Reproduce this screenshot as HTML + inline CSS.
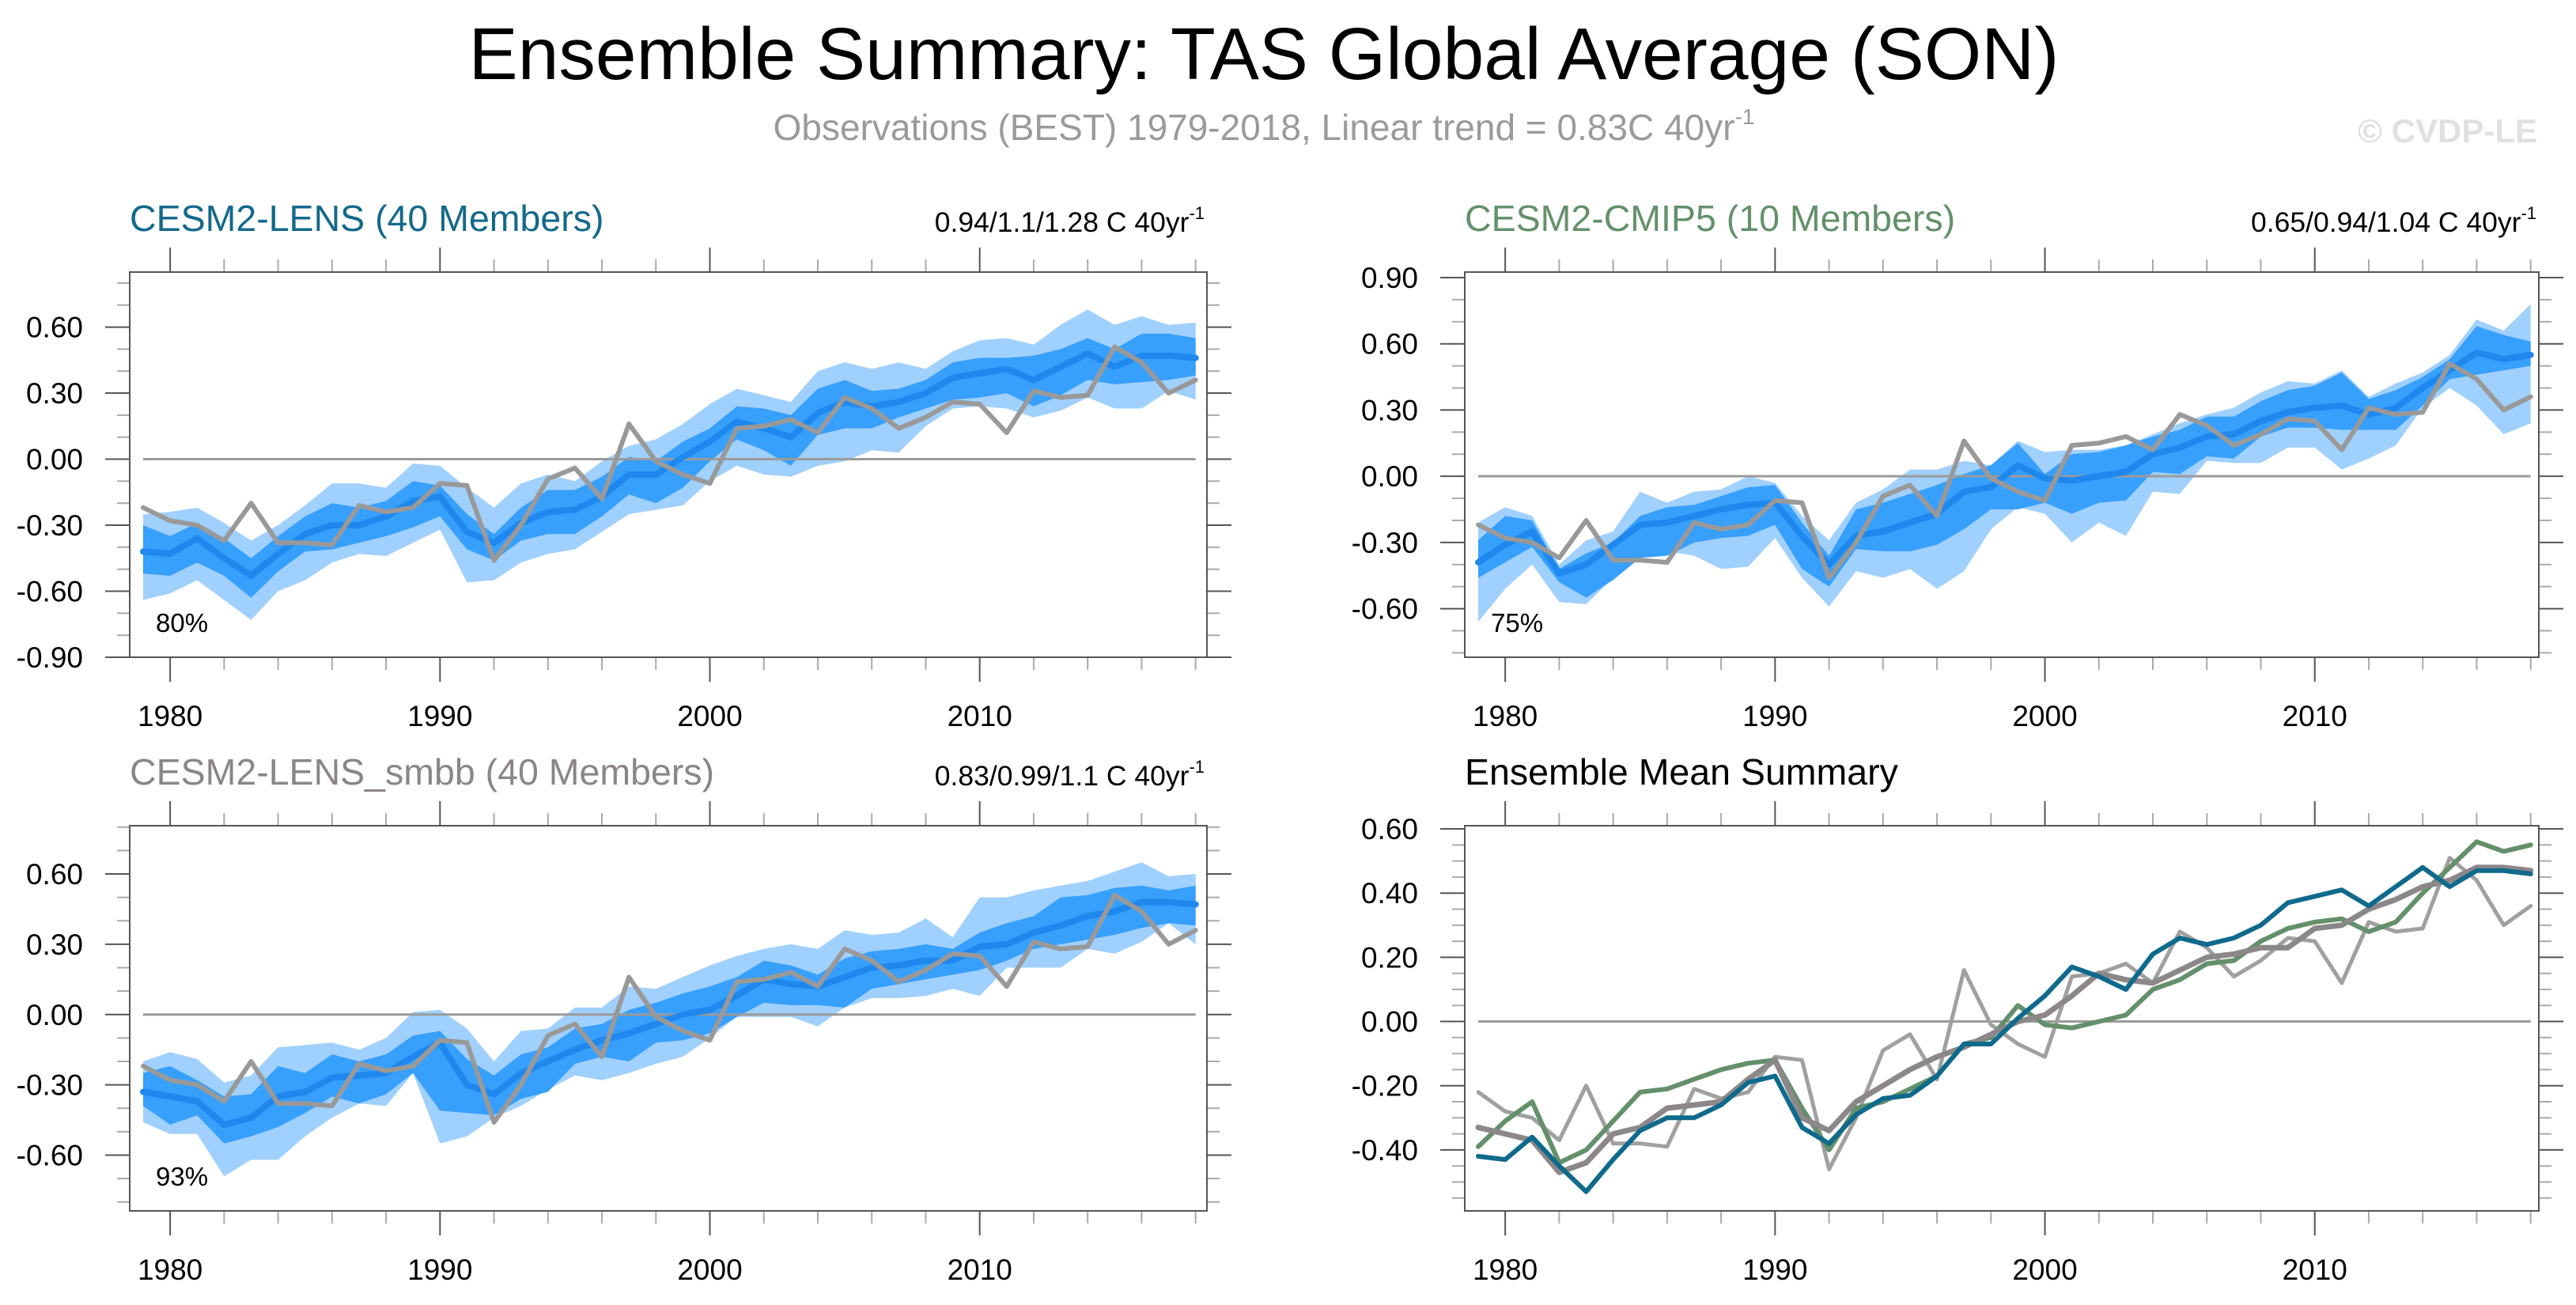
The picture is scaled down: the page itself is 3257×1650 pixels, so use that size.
<!DOCTYPE html>
<html><head><meta charset="utf-8"><style>
html,body{margin:0;padding:0;background:#fff;}
svg{display:block;font-family:"Liberation Sans",sans-serif;}
</style></head><body>
<svg id="chart" width="3257" height="1650" viewBox="0 0 3257 1650" xmlns="http://www.w3.org/2000/svg">
<text x="1598" y="100" font-size="93" text-anchor="middle" fill="#000">Ensemble Summary: TAS Global Average (SON)</text>
<text x="1598" y="177" font-size="46" text-anchor="middle" fill="#9a9a9a">Observations (BEST) 1979-2018, Linear trend = 0.83C 40yr<tspan font-size="28" dy="-20">-1</tspan></text>
<text x="3208" y="180" font-size="42" font-weight="bold" text-anchor="end" fill="#e0e0e0">© CVDP-LE</text>
<g id="panels"></g>
</svg>
<script>
const years = [];
for (let y = 1979; y <= 2018; y++) years.push(y);
const obs = [-0.22,-0.28,-0.30,-0.37,-0.20,-0.38,-0.38,-0.39,-0.21,-0.24,-0.22,-0.11,-0.12,-0.46,-0.30,-0.09,-0.04,-0.18,0.16,-0.01,-0.07,-0.11,0.14,0.15,0.18,0.12,0.28,0.23,0.14,0.19,0.26,0.25,0.12,0.31,0.28,0.29,0.51,0.44,0.30,0.36];
// CESM2-LENS
const lensMean = [-0.42,-0.43,-0.36,-0.45,-0.53,-0.43,-0.34,-0.30,-0.30,-0.26,-0.19,-0.17,-0.33,-0.38,-0.29,-0.24,-0.23,-0.17,-0.07,-0.07,0.01,0.08,0.17,0.14,0.10,0.21,0.26,0.24,0.26,0.30,0.37,0.39,0.41,0.36,0.42,0.48,0.42,0.47,0.47,0.46];
const lensHi90 = [-0.25,-0.24,-0.22,-0.29,-0.37,-0.30,-0.21,-0.11,-0.11,-0.13,-0.02,-0.03,-0.13,-0.22,-0.11,-0.07,-0.10,-0.01,0.06,0.09,0.16,0.25,0.32,0.29,0.26,0.40,0.44,0.41,0.44,0.41,0.49,0.54,0.55,0.52,0.61,0.68,0.61,0.65,0.61,0.62];
const lensHi75 = [-0.30,-0.35,-0.29,-0.36,-0.45,-0.35,-0.26,-0.20,-0.22,-0.19,-0.10,-0.12,-0.25,-0.34,-0.22,-0.14,-0.14,-0.08,0.01,-0.01,0.08,0.14,0.24,0.23,0.20,0.32,0.36,0.31,0.32,0.36,0.44,0.46,0.46,0.47,0.50,0.55,0.50,0.57,0.57,0.55];
const lensLo25 = [-0.52,-0.53,-0.47,-0.53,-0.63,-0.51,-0.42,-0.41,-0.38,-0.35,-0.31,-0.26,-0.41,-0.46,-0.37,-0.34,-0.34,-0.26,-0.16,-0.20,-0.13,-0.01,0.09,0.04,-0.03,0.11,0.14,0.14,0.19,0.23,0.27,0.28,0.30,0.24,0.29,0.36,0.34,0.35,0.36,0.38];
const lensLo10 = [-0.64,-0.61,-0.55,-0.64,-0.73,-0.60,-0.55,-0.47,-0.43,-0.44,-0.38,-0.32,-0.56,-0.55,-0.47,-0.43,-0.41,-0.33,-0.25,-0.23,-0.21,-0.10,-0.03,-0.07,-0.08,-0.03,-0.01,0.04,0.03,0.15,0.23,0.24,0.23,0.19,0.22,0.28,0.23,0.23,0.31,0.27];
// CESM2-CMIP5
const cmipMean = [-0.39,-0.31,-0.25,-0.44,-0.40,-0.31,-0.22,-0.21,-0.18,-0.15,-0.13,-0.12,-0.27,-0.40,-0.27,-0.25,-0.21,-0.17,-0.07,-0.05,0.05,-0.01,-0.02,0.00,0.02,0.10,0.13,0.18,0.19,0.25,0.29,0.31,0.32,0.28,0.31,0.40,0.48,0.56,0.53,0.55];
const cmipHi90 = [-0.21,-0.14,-0.18,-0.40,-0.29,-0.25,-0.07,-0.12,-0.07,-0.06,0.00,-0.03,-0.18,-0.29,-0.12,-0.06,0.03,0.03,0.07,0.05,0.16,0.11,0.12,0.12,0.14,0.19,0.24,0.28,0.31,0.38,0.43,0.42,0.48,0.36,0.42,0.47,0.55,0.71,0.66,0.78];
const cmipHi75 = [-0.29,-0.18,-0.20,-0.42,-0.35,-0.30,-0.18,-0.14,-0.13,-0.09,-0.05,-0.04,-0.21,-0.36,-0.15,-0.12,-0.08,-0.04,0.01,0.05,0.15,0.01,0.10,0.11,0.14,0.18,0.21,0.27,0.27,0.34,0.39,0.41,0.47,0.35,0.39,0.45,0.53,0.68,0.64,0.61];
const cmipLo25 = [-0.46,-0.39,-0.32,-0.48,-0.55,-0.47,-0.37,-0.36,-0.30,-0.28,-0.27,-0.22,-0.42,-0.50,-0.33,-0.34,-0.34,-0.31,-0.24,-0.15,-0.15,-0.12,-0.17,-0.12,-0.11,0.02,0.01,0.09,0.08,0.18,0.22,0.22,0.21,0.21,0.21,0.32,0.44,0.46,0.48,0.50];
const cmipLo10 = [-0.66,-0.51,-0.40,-0.57,-0.58,-0.46,-0.31,-0.34,-0.36,-0.42,-0.41,-0.28,-0.46,-0.59,-0.43,-0.46,-0.42,-0.51,-0.43,-0.24,-0.14,-0.17,-0.30,-0.21,-0.27,-0.07,-0.08,0.07,0.06,0.06,0.13,0.13,0.03,0.08,0.14,0.31,0.40,0.32,0.19,0.24];
// CESM2-LENS_smbb
const smbbMean = [-0.33,-0.35,-0.37,-0.47,-0.44,-0.35,-0.33,-0.27,-0.26,-0.25,-0.18,-0.12,-0.30,-0.34,-0.25,-0.20,-0.15,-0.11,-0.08,-0.04,0.00,0.02,0.08,0.15,0.13,0.12,0.16,0.20,0.21,0.23,0.23,0.29,0.30,0.35,0.38,0.42,0.44,0.48,0.48,0.47];
const smbbHi90 = [-0.20,-0.16,-0.19,-0.29,-0.26,-0.14,-0.13,-0.12,-0.15,-0.10,0.01,0.02,-0.06,-0.20,-0.07,-0.06,0.03,0.03,0.12,0.11,0.16,0.21,0.25,0.28,0.30,0.28,0.36,0.34,0.35,0.41,0.33,0.50,0.50,0.53,0.55,0.57,0.61,0.65,0.59,0.60];
const smbbHi75 = [-0.25,-0.22,-0.28,-0.35,-0.34,-0.22,-0.25,-0.17,-0.20,-0.17,-0.09,-0.07,-0.19,-0.26,-0.17,-0.14,-0.06,-0.04,0.02,0.05,0.09,0.12,0.16,0.23,0.21,0.17,0.24,0.27,0.28,0.30,0.28,0.35,0.39,0.42,0.50,0.51,0.54,0.55,0.53,0.55];
const smbbLo25 = [-0.39,-0.47,-0.43,-0.55,-0.52,-0.48,-0.42,-0.35,-0.38,-0.34,-0.25,-0.41,-0.42,-0.43,-0.36,-0.33,-0.21,-0.18,-0.20,-0.12,-0.11,-0.08,-0.01,0.05,0.04,0.04,0.03,0.11,0.13,0.15,0.17,0.19,0.23,0.28,0.30,0.32,0.34,0.37,0.39,0.38];
const smbbLo10 = [-0.46,-0.51,-0.51,-0.69,-0.62,-0.62,-0.52,-0.44,-0.38,-0.39,-0.25,-0.55,-0.52,-0.44,-0.39,-0.32,-0.26,-0.28,-0.25,-0.21,-0.18,-0.10,-0.01,-0.01,-0.01,-0.05,0.03,0.07,0.07,0.08,0.11,0.08,0.20,0.20,0.20,0.28,0.26,0.31,0.39,0.30];
// Axis ticks
const ticksA = [-0.9,-0.6,-0.3,0.0,0.3,0.6];
const ticksB = [-0.6,-0.3,0.0,0.3,0.6,0.9];
const ticksC = [-0.6,-0.3,0.0,0.3,0.6];
const ticksD = [-0.4,-0.2,0.0,0.2,0.4,0.6];
const xTicks = [1980,1990,2000,2010];

const NS = "http://www.w3.org/2000/svg";
const root = document.getElementById('panels');
function mk(tag, attrs, parent) {
  const e = document.createElementNS(NS, tag);
  for (const k in attrs) e.setAttribute(k, attrs[k]);
  parent.appendChild(e);
  return e;
}

const panels = [
  {name:'cesm2-lens', left:164, right:1526, top:344, bottom:831, ymin:-0.9, ymax:0.85, ticks:ticksA, minor:0.1, title:'CESM2-LENS (40 Members)', tcol:'#13698b', trend:'0.94/1.1/1.28 C 40yr', pct:'80%', mean:lensMean, hi90:lensHi90, hi75:lensHi75, lo25:lensLo25, lo10:lensLo10},
  {name:'cesm2-cmip5', left:1852, right:3210, top:344, bottom:831, ymin:-0.82, ymax:0.925, ticks:ticksB, minor:0.1, title:'CESM2-CMIP5 (10 Members)', tcol:'#63906a', trend:'0.65/0.94/1.04 C 40yr', pct:'75%', mean:cmipMean, hi90:cmipHi90, hi75:cmipHi75, lo25:cmipLo25, lo10:cmipLo10},
  {name:'cesm2-lens-smbb', left:164, right:1526, top:1044, bottom:1531, ymin:-0.838, ymax:0.806, ticks:ticksC, minor:0.1, title:'CESM2-LENS_smbb (40 Members)', tcol:'#8a8586', trend:'0.83/0.99/1.1 C 40yr', pct:'93%', mean:smbbMean, hi90:smbbHi90, hi75:smbbHi75, lo25:smbbLo25, lo10:smbbLo10},
  {name:'ensemble-mean-summary', left:1852, right:3210, top:1044, bottom:1531, ymin:-0.59, ymax:0.61, ticks:ticksD, minor:0.05, title:'Ensemble Mean Summary', tcol:'#000', summary:true}
];

panels.forEach(p => {
  const g = mk('g', {}, root);
  
  
  const xs = yr => p.left + 17 + (yr - 1979) * 34.12;
  const ys = v => p.bottom - (v - p.ymin) / (p.ymax - p.ymin) * (p.bottom - p.top);
  const t = mk('text', {x:p.left, y:p.top - 52, 'font-size':46.5, fill:p.tcol}, g);
  t.textContent = p.title;
  
  
  if (p.trend) {
    const tr = mk('text', {x:p.right - 3, y:p.top - 51, 'font-size':35.5, 'text-anchor':'end', fill:'#000'}, g);
    
    
    tr.textContent = p.trend;
    const sp = mk('tspan', {'font-size':22, dy:-16}, tr);
    sp.textContent = '-1';
  }
  const eps = 1e-6;
  const nStart = Math.ceil((p.ymin - eps) / p.minor), nEnd = Math.floor((p.ymax + eps) / p.minor);
  for (let n = nStart; n <= nEnd; n++) {
    const v = n * p.minor;
    const isMaj = p.ticks.some(tv => Math.abs(tv - v) < 1e-6);
    const y = ys(v);
    const len = isMaj ? 31 : 16;
    const col = isMaj ? '#555' : '#aaa';
    const l1 = mk('line', {x1:p.left - len, x2:p.left, y1:y, y2:y, stroke:col, 'stroke-width':2}, g);
    
    
    const l2 = mk('line', {x1:p.right, x2:p.right + len, y1:y, y2:y, stroke:col, 'stroke-width':2}, g);
    
    
  }
  p.ticks.forEach(v => {
    const tl = mk('text', {x:p.left - 59, y:ys(v) + 13, 'font-size':37, 'text-anchor':'end', fill:'#000'}, g);
    
    
    tl.textContent = v.toFixed(2);
  });
  for (let yr = 1980; yr <= 2018; yr += 2) {
    const isMaj = yr % 10 === 0;
    const x = xs(yr);
    const len = isMaj ? 31 : 16;
    const col = isMaj ? '#555' : '#aaa';
    const a = mk('line', {x1:x, x2:x, y1:p.top - len, y2:p.top, stroke:col, 'stroke-width':2}, g);
    
    
    const b = mk('line', {x1:x, x2:x, y1:p.bottom, y2:p.bottom + len, stroke:col, 'stroke-width':2}, g);
    
    
  }
  xTicks.forEach(yr => {
    const xl = mk('text', {x:xs(yr), y:p.bottom + 87, 'font-size':37, 'text-anchor':'middle', fill:'#000'}, g);
    
    
    xl.textContent = yr;
  });
  const line = (arr, col, w, nm) => {
    const pl = mk('polyline', {points: arr.map((v, i) => xs(years[i]).toFixed(1) + ',' + ys(v).toFixed(1)).join(' '), fill:'none', stroke:col, 'stroke-width':w, 'stroke-linejoin':'round', 'stroke-linecap':'round'}, g);
    
    
  };
  const band = (hi, lo, col, nm) => {
    const pts = hi.map((v, i) => xs(years[i]).toFixed(1) + ',' + ys(v).toFixed(1));
    for (let i = lo.length - 1; i >= 0; i--) pts.push(xs(years[i]).toFixed(1) + ',' + ys(lo[i]).toFixed(1));
    const pg = mk('polygon', {points: pts.join(' '), fill:col, stroke:'none'}, g);
    
    
  };
  if (!p.summary) {
    band(p.hi90, p.lo10, '#a0d0fd', 'spread-10-90');
    band(p.hi75, p.lo25, '#379ffc', 'spread-25-75');
  }
  const z = mk('line', {x1:xs(1979), x2:xs(2018), y1:ys(0), y2:ys(0), stroke:'#9a9a9a', 'stroke-width':3}, g);
  
  
  if (!p.summary) {
    line(p.mean, '#1e88ee', 8, 'ensemble-mean-line');
    line(obs, '#999999', 6, 'observations-line');
    const pc = mk('text', {x:p.left + 33, y:p.bottom - 32, 'font-size':33, fill:'#000'}, g);
    
    
    pc.textContent = p.pct;
  } else {
    line(obs, '#a0a0a0', 5, 'observations-line');
    line(cmipMean, '#63906a', 6, 'cmip5-mean-line');
    line(smbbMean, '#8c8789', 7, 'smbb-mean-line');
    line(lensMean, '#0f6a8c', 6, 'lens-mean-line');
  }
  const box = mk('rect', {x:p.left, y:p.top, width:p.right - p.left, height:p.bottom - p.top, fill:'none', stroke:'#555', 'stroke-width':2}, g);
  
  
});
</script>
</body></html>
